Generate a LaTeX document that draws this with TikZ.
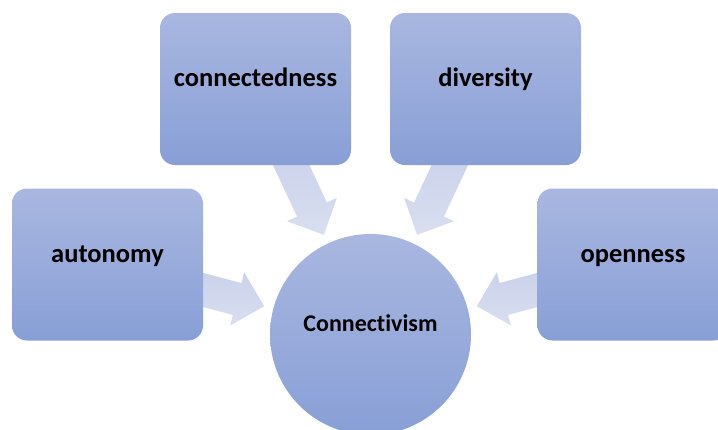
\documentclass[tikz,border=0pt]{standalone}
\usepackage{fontspec}
\setmainfont{Carlito}[Ligatures=NoCommon]
\usetikzlibrary{calc}
\definecolor{boxtop}{HTML}{A9B7E0}
\definecolor{boxbot}{HTML}{889FD6}
\definecolor{arrA}{HTML}{C8D0EA}
\definecolor{arrB}{HTML}{D9DFF0}
\pgfdeclarelayer{bg}
\pgfsetlayers{bg,main}
\newcommand{\cvArrow}[3]{%
  \coordinate (#3tip) at ($(#2.center)!110pt!(#1.center)$);
  \coordinate (#3tail) at ($(#2.center)!205pt!(#1.center)$);
  \coordinate (#3head) at ($(#3tip)!28pt!(#3tail)$);
  \path[arrowfill] ($(#3tail)!16.5pt!90:(#3tip)$) -- ($(#3head)!16.5pt!90:(#3tip)$)
    -- ($(#3head)!27.5pt!90:(#3tip)$) -- (#3tip) -- ($(#3head)!27.5pt!-90:(#3tip)$)
    -- ($(#3head)!16.5pt!-90:(#3tip)$) -- ($(#3tail)!16.5pt!-90:(#3tip)$) -- cycle;
}
\begin{document}
\begin{tikzpicture}[x=1pt,y=-1pt,
  boxnode/.style={rectangle, rounded corners=15pt, minimum width=191pt, minimum height=152pt,
    top color=boxtop, bottom color=boxbot, draw=none, inner sep=0pt},
  hubnode/.style={circle, minimum size=201pt, top color=boxtop, bottom color=boxbot, draw=none, inner sep=0pt},
  lbl/.style={font=\bfseries\fontsize{26.5}{30}\selectfont, anchor=base, text=black, inner sep=0pt},
  hublbl/.style={font=\bfseries\fontsize{24}{28}\selectfont, anchor=base, text=black, inner sep=0pt},
  arrowfill/.style={top color=arrA, bottom color=arrB, draw=none}]
\useasboundingbox (0,0) rectangle (718,429);
\clip (0,0) rectangle (718,429);
\node[boxnode] (aut) at (107.5,264.5) {};
\node[boxnode] (con) at (255.5,89) {};
\node[boxnode] (div) at (485.5,89) {};
\node[boxnode] (ope) at (633,264.5) {};
\node[hubnode] (hub) at (370.5,334.5) {};
\node[lbl] (autl) at (107.5,262) {autonomy};
\node[lbl] (conl) at (255.5,86) {connectedness};
\node[lbl] (divl) at (485.5,86) {diversity};
\node[lbl] (opel) at (633,262) {openness};
\node[hublbl] (hubl) at (370.5,331) {Connectivism};
\begin{pgfonlayer}{bg}
\cvArrow{aut}{hub}{a}
\cvArrow{con}{hub}{c}
\cvArrow{div}{hub}{d}
\cvArrow{ope}{hub}{o}
\end{pgfonlayer}
\end{tikzpicture}
\end{document}
